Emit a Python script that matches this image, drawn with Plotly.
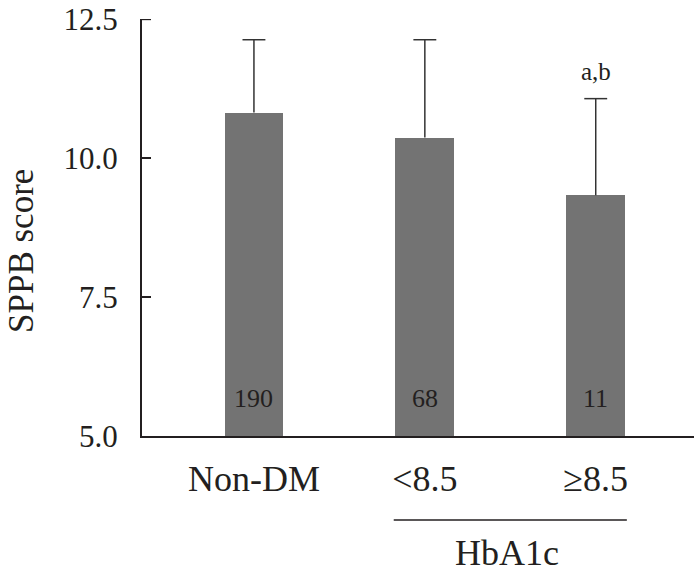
import plotly.graph_objects as go

categories = ["Non-DM", "<8.5", "≥8.5"]
means = [10.82, 10.37, 9.33]
upper = [12.13, 12.13, 11.07]
counts = ["190", "68", "11"]
sig = ["", "", "a,b"]
ytick_vals = [5.0, 7.5, 10.0, 12.5]
group_label = "HbA1c"
y_title = "SPPB score"

xs = list(range(len(categories)))
FONT = "Liberation Serif"
TXT = "#231f20"
BW = 0.344
CAP = 0.067
YMIN, YMAX = 5.0, 12.5
W, H = 694, 577
ML, MT, MB = 142, 19, 141
PW, PH = W - ML, H - MT - MB

fig = go.Figure()
fig.add_trace(go.Bar(
    x=xs, y=[m - YMIN for m in means], base=YMIN, width=BW,
    marker=dict(color="#737373", line=dict(width=0)),
    hoverinfo="skip",
))

# upper error bars (line from bar top to upper value, with cap)
ex, ey = [], []
for x, m, u in zip(xs, means, upper):
    ex += [x, x, None, x - CAP, x + CAP, None]
    ey += [m, u, None, u, u, None]
fig.add_trace(go.Scatter(x=ex, y=ey, mode="lines",
                         line=dict(color="#333333", width=1.5),
                         hoverinfo="skip", cliponaxis=False))

# sample sizes inside bars
for x, c in zip(xs, counts):
    fig.add_annotation(x=x, y=YMIN, text=c, showarrow=False, yshift=38,
                       font=dict(family=FONT, size=26, color=TXT))

for x, u, s in zip(xs, upper, sig):
    if s:
        fig.add_annotation(x=x, y=u, text=s, showarrow=False, yshift=27,
                           font=dict(family=FONT, size=25, color=TXT))

# top inside tick mark at the end of the y range
fig.add_shape(type="line", xref="paper", yref="y", x0=0, x1=9 / PW,
              y0=ytick_vals[-1], y1=ytick_vals[-1],
              line=dict(color="#231f20", width=2))

# group bracket line under HbA1c categories
fig.add_shape(type="line", xref="x", yref="paper",
              x0=xs[1] - BW/2 - 0.01, x1=xs[2] + BW/2 + 0.01,
              y0=-84 / PH, y1=-84 / PH,
              line=dict(color="#231f20", width=1.5))
fig.add_annotation(xref="x", yref="paper", x=(xs[1] + xs[2]) / 2 - 0.02, y=-139 / PH,
                   text=group_label, showarrow=False, yanchor="bottom",
                   font=dict(family=FONT, size=36, color=TXT))

# y-axis title
fig.add_annotation(xref="paper", yref="paper", x=-121 / PW, y=185 / PH, text=y_title,
                   textangle=-90, showarrow=False, xanchor="center", yanchor="middle",
                   font=dict(family=FONT, size=35, color=TXT))

fig.update_layout(
    width=W, height=H,
    margin=dict(l=ML, r=0, t=MT, b=MB),
    plot_bgcolor="white", paper_bgcolor="white",
    showlegend=False, bargap=0,
    font=dict(family=FONT, color=TXT),
)
fig.update_xaxes(
    range=[-0.655, 2.575], tickvals=xs, ticktext=categories,
    showline=True, linecolor="#231f20", linewidth=2, ticks="",
    showgrid=False, zeroline=False, automargin=False,
    tickfont=dict(family=FONT, size=36, color=TXT), ticklabelstandoff=10,
)
fig.update_yaxes(
    range=[YMIN, YMAX + 0.003], tickvals=ytick_vals, tickformat=".1f",
    showline=True, linecolor="#231f20", linewidth=2,
    ticks="inside", ticklen=9, tickwidth=2, tickcolor="#231f20",
    showgrid=False, zeroline=False, automargin=False,
    ticklabeloverflow="allow",
    tickfont=dict(family=FONT, size=31, color=TXT), ticklabelstandoff=16,
)

fig.write_html("out.html", config={"displayModeBar": False},
               post_script="document.body.style.margin='0';")
